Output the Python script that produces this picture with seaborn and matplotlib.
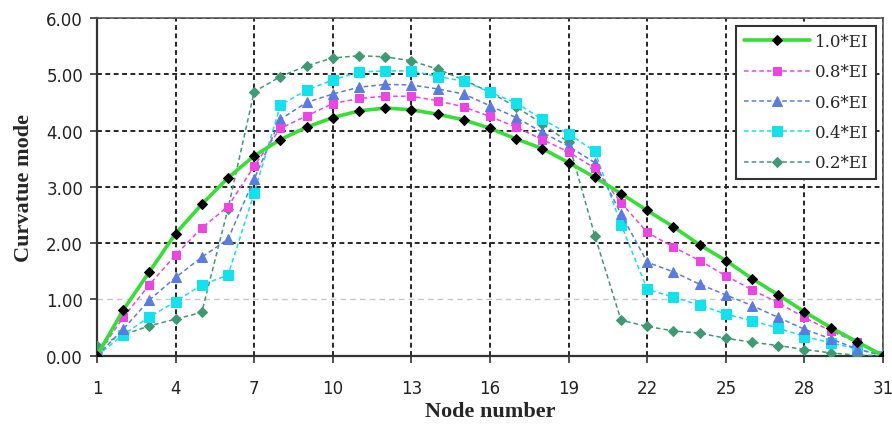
import matplotlib
matplotlib.use("Agg")
import matplotlib.pyplot as plt
import seaborn as sns
import numpy as np

# Data
nodes = list(range(1, 32))

ei_10 = [0.00, 0.81, 1.49, 2.17, 2.69, 3.16, 3.55, 3.84, 4.06, 4.23, 4.35, 4.40, 4.37, 4.29, 4.19, 4.04,
         3.85, 3.68, 3.43, 3.17, 2.88, 2.58, 2.29, 1.97, 1.69, 1.37, 1.08, 0.78, 0.50, 0.25, 0.00]
ei_08 = [0.00, 0.68, 1.26, 1.79, 2.27, 2.65, 3.37, 4.04, 4.26, 4.48, 4.57, 4.61, 4.61, 4.53, 4.42, 4.25,
         4.06, 3.84, 3.62, 3.33, 2.72, 2.19, 1.93, 1.69, 1.42, 1.17, 0.94, 0.68, 0.44, 0.24, 0.00]
ei_06 = [0.00, 0.47, 0.99, 1.39, 1.75, 2.07, 3.14, 4.20, 4.50, 4.65, 4.77, 4.82, 4.81, 4.74, 4.65, 4.44,
         4.23, 3.97, 3.72, 3.43, 2.52, 1.66, 1.49, 1.27, 1.08, 0.89, 0.68, 0.47, 0.30, 0.12, 0.00]
ei_04 = [0.00, 0.37, 0.69, 0.96, 1.26, 1.43, 2.89, 4.45, 4.72, 4.90, 5.04, 5.06, 5.06, 4.96, 4.88, 4.68,
         4.49, 4.20, 3.94, 3.63, 2.33, 1.18, 1.04, 0.90, 0.74, 0.62, 0.49, 0.34, 0.23, 0.12, 0.00]
ei_02 = [0.17, 0.37, 0.53, 0.65, 0.77, 2.61, 4.69, 4.96, 5.15, 5.29, 5.33, 5.31, 5.24, 5.09, 4.90, 4.68,
         4.42, 4.12, 3.79, 2.13, 0.63, 0.52, 0.44, 0.40, 0.31, 0.24, 0.18, 0.11, 0.05, 0.01, 0.00]

labels = ["1.0*EI", "0.8*EI", "0.6*EI", "0.4*EI", "0.2*EI"]
x_ticks = list(range(1, 32, 3))
y_ticks = [0, 1, 2, 3, 4, 5, 6]

sns.set_style("ticks")
plt.rcParams['font.family'] = ['DejaVu Sans']

fig = plt.figure(figsize=(8.92, 4.31), dpi=100)
ax = fig.add_axes([0.1087, 0.1724, 0.8813, 0.7835])

# line styles per series
styles = [
    dict(color="#33e033", linestyle="-", lw=2.6, marker="D", markersize=4.8,
         markerfacecolor="black", markeredgecolor="black", zorder=10),
    dict(color="#ee44e6", linestyle=(0, (3, 2)), lw=1.1, marker="s", markersize=6,
         markerfacecolor="#ee44e6", markeredgecolor="#ee44e6", zorder=8),
    dict(color="#5a7be0", linestyle=(0, (3, 2)), lw=1.1, marker="^", markersize=6.5,
         markerfacecolor="#5a7be0", markeredgecolor="#5a7be0", zorder=7),
    dict(color="#11e3ee", linestyle=(0, (3, 2)), lw=1.1, marker="s", markersize=7,
         markerfacecolor="#11e3ee", markeredgecolor="#11e3ee", zorder=6),
    dict(color="#3d9a72", linestyle=(0, (3, 2)), lw=1.1, marker="D", markersize=4.8,
         markerfacecolor="#3d9a72", markeredgecolor="#3d9a72", zorder=5),
]

for lab, vals, st in zip(labels, [ei_10, ei_08, ei_06, ei_04, ei_02], styles):
    sns.lineplot(x=nodes, y=vals, ax=ax, label=lab, **st)

ax.set_xlim(1, 31)
ax.set_ylim(0, 6)
ax.set_xticks(x_ticks)
ax.set_yticks(y_ticks)
ax.set_yticklabels(["%.2f" % v for v in y_ticks])

# grid: black dashes, but the 1.00 line is light grey
ax.grid(True, color="#262626", linestyle=(0, (2.5, 1.8)), lw=1.4, zorder=1)
ax.set_axisbelow(True)
ygl = ax.get_ygridlines()
ygl[1].set_color("#c8c8c8")
ygl[1].set_linewidth(1.0)
ygl[1].set_linestyle((0, (4, 3)))

for s in ["left", "bottom"]:
    ax.spines[s].set_color("#333333")
    ax.spines[s].set_linewidth(1.6)
for s in ["top", "right"]:
    ax.spines[s].set_color("#555555")
    ax.spines[s].set_linewidth(1.2)

ax.tick_params(axis="both", direction="out", length=5, width=1.2, color="#333333",
               labelsize=12, labelcolor="#222222")
ax.tick_params(axis="x", pad=12)
ax.tick_params(axis="y", pad=5)

ax.set_xlabel("Node number", family="Liberation Serif", fontweight="bold", fontsize=16, labelpad=3)
ax.set_ylabel("Curvatue mode", family="Liberation Serif", fontweight="bold", fontsize=16, labelpad=9)

leg = ax.legend(loc="upper right", prop={"family": "DejaVu Serif", "size": 12},
                handlelength=4.0, handletextpad=0.25, labelspacing=0.8,
                borderpad=0.45, borderaxespad=0.45, fancybox=False, framealpha=1)
leg.get_frame().set_edgecolor("#333333")
leg.get_frame().set_linewidth(1.5)
leg.set_zorder(20)

fig.savefig("out.png", dpi=100)
